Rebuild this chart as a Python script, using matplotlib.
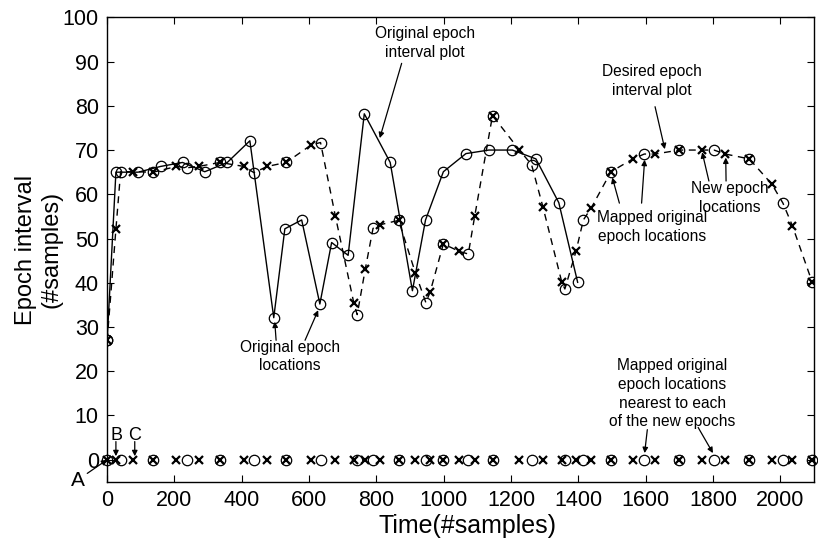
import numpy as np
import matplotlib
matplotlib.use("Agg")
import matplotlib.pyplot as plt

plt.rcParams['font.family'] = ['Liberation Sans', 'DejaVu Sans']

# Original epoch interval plot (solid line, circles)
orig_x = [0, 26, 92, 159, 224, 290, 357, 424, 495, 528, 578, 632, 667, 716, 764,
          841, 907, 946, 999, 1066, 1134, 1204, 1274, 1342, 1398]
orig_y = [27, 65, 65, 66.3, 67.2, 65.1, 67.2, 72.1, 32.1, 52.2, 54.2, 35.2, 49.1,
          46.2, 78.2, 67.2, 38.2, 54.2, 65.1, 69.2, 70, 70, 68, 58.1, 40.1]

# Desired epoch interval plot: new epoch locations (crosses)
new_x = [0, 26, 77, 137, 206, 272, 335, 406, 476, 532, 607, 678, 733, 767, 810,
         866, 916, 960, 999, 1046, 1092, 1145, 1225, 1295, 1351, 1393, 1439, 1497,
         1562, 1628, 1700, 1767, 1837, 1908, 1975, 2036, 2095]
new_y = [27, 52.1, 65.1, 65, 66.3, 66.3, 67.2, 66.3, 66.3, 67.2, 71.2, 55.1, 35.4,
         43.1, 53.1, 54.1, 42.2, 38, 48.8, 47.1, 55, 77.8, 70, 57.1, 40.1, 47.1, 57,
         65.1, 68, 69.1, 70, 70, 69.1, 68, 62.3, 52.9, 40.1]

# Mapped original epoch locations (circles on the desired plot)
mapped_x = [0, 40, 137, 238, 335, 436, 532, 634, 743, 790, 866, 947, 999, 1073,
            1145, 1261, 1360, 1415, 1497, 1596, 1700, 1803, 1908, 2008, 2095]
mapped_y = [27, 65.1, 65, 66, 67.2, 64.9, 67.2, 71.7, 32.8, 52.3, 54.1, 35.5, 48.8,
            46.5, 77.8, 66.7, 38.6, 54.2, 65.1, 69.1, 70, 70, 68, 58, 40.1]

fig = plt.figure(figsize=(8.18, 5.42), dpi=100)
ax = fig.add_axes([0.131, 0.111, 0.864, 0.857])

# desired (dashed) curve through all points sorted by time
pts = sorted(set(zip(new_x, new_y)) | set(zip(mapped_x, mapped_y)))
dx = [p[0] for p in pts]
dy = [p[1] for p in pts]
ax.plot(dx, dy, '--', color='black', lw=1.0, dashes=(5, 4))
ax.plot(mapped_x, mapped_y, 'o', mfc='none', mec='black', ms=7.5, mew=0.9)
ax.plot(new_x, new_y, 'x', color='black', ms=5.5, mew=1.6)

# original (solid) curve
ax.plot(orig_x, orig_y, '-o', color='black', lw=1.0, mfc='none', mec='black',
        ms=7.5, mew=0.9)

# bottom row of locations at y = 0
ax.plot(mapped_x, np.zeros(len(mapped_x)), 'o', mfc='none', mec='black', ms=7.5, mew=0.9,
        clip_on=False)
ax.plot(new_x, np.zeros(len(new_x)), 'x', color='black', ms=6, mew=1.6, clip_on=False)

ax.set_xlim(0, 2100)
ax.set_ylim(-5, 100)
ax.set_xticks(np.arange(0, 2001, 200))
ax.set_yticks(np.arange(0, 101, 10))
ax.tick_params(direction='in', top=True, right=True, length=5, labelsize=15.5, pad=6)
for s in ax.spines.values():
    s.set_linewidth(1.0)
ax.set_xlabel('Time(#samples)', fontsize=18, labelpad=2)
ax.xaxis.set_label_coords(0.51, -0.07)
ax.set_ylabel('Epoch interval\n(#samples)', fontsize=17, labelpad=0)

aprops = dict(arrowstyle='-|>', color='black', lw=0.9, mutation_scale=8,
              shrinkA=0, shrinkB=0)
tfs = 11.2

ax.text(944, 94.2, 'Original epoch\ninterval plot', ha='center', va='center',
        fontsize=tfs, linespacing=1.3)
ax.annotate('', xy=(810, 72.7), xytext=(875, 89.6), arrowprops=aprops)

ax.text(1618, 85.6, 'Desired epoch\ninterval plot', ha='center', va='center',
        fontsize=tfs, linespacing=1.3)
ax.annotate('', xy=(1657, 70.2), xytext=(1628, 79.8), arrowprops=aprops)

ax.text(543, 23.3, 'Original epoch\nlocations', ha='center', va='center',
        fontsize=tfs, linespacing=1.3)
ax.annotate('', xy=(498, 31.2), xytext=(502, 27), arrowprops=aprops)
ax.annotate('', xy=(627, 33.8), xytext=(588, 27), arrowprops=aprops)

ax.text(1620, 52.6, 'Mapped original\nepoch locations', ha='center', va='center',
        fontsize=tfs, linespacing=1.3)
ax.annotate('', xy=(1501, 63.8), xytext=(1522, 58), arrowprops=aprops)
ax.annotate('', xy=(1597, 67.8), xytext=(1588, 58), arrowprops=aprops)

ax.text(1851, 59.2, 'New epoch\nlocations', ha='center', va='center',
        fontsize=tfs, linespacing=1.3)
ax.annotate('', xy=(1768, 69.5), xytext=(1788, 63), arrowprops=aprops)
ax.annotate('', xy=(1838, 68.3), xytext=(1839, 63), arrowprops=aprops)

ax.text(1679, 14.9, 'Mapped original\nepoch locations\nnearest to each\nof the new epochs',
        ha='center', va='center', fontsize=tfs, linespacing=1.3)
ax.annotate('', xy=(1597, 1.5), xytext=(1605, 6.8), arrowprops=aprops)
ax.annotate('', xy=(1800, 1.5), xytext=(1756, 7.3), arrowprops=aprops)

ax.annotate('A', xy=(0, 0), xytext=(-88, -4.6), ha='center', va='center',
            fontsize=15, arrowprops=aprops, annotation_clip=False)
ax.text(28, 5.4, 'B', ha='center', va='center', fontsize=13)
ax.annotate('', xy=(26, 0.8), xytext=(26, 4.1), arrowprops=aprops)
ax.text(82, 5.4, 'C', ha='center', va='center', fontsize=13)
ax.annotate('', xy=(82, 0.8), xytext=(82, 4.1), arrowprops=aprops)

fig.savefig('out.png', dpi=100)
